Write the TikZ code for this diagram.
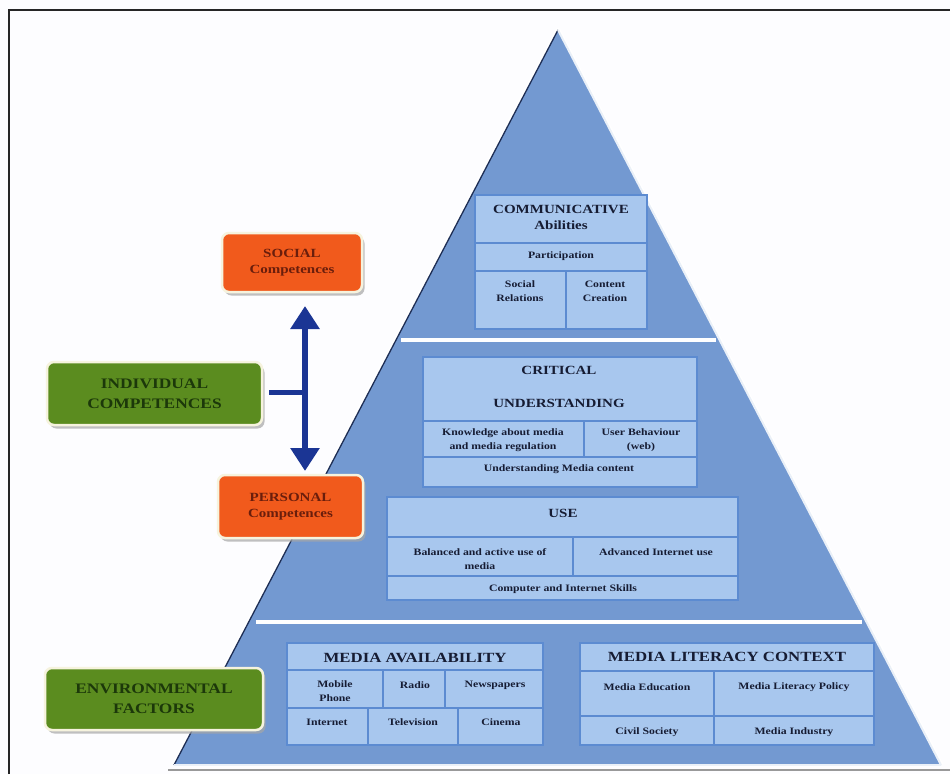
\documentclass[tikz,border=0pt]{standalone}
\usepackage{fontspec}
\newfontfamily\wide[FakeStretch=1.2]{Liberation Serif}
\usetikzlibrary{arrows.meta,shadows}
\definecolor{bgc}{HTML}{FDFDFF}
\definecolor{pyr}{HTML}{7399D1}
\definecolor{pyredge}{HTML}{1E2E55}
\definecolor{cellfill}{HTML}{A8C7EE}
\definecolor{cellline}{HTML}{5C8BD1}
\definecolor{navytext}{HTML}{161C33}
\definecolor{orangefill}{HTML}{F15A1C}
\definecolor{orangetext}{HTML}{6A1E0C}
\definecolor{greenfill}{HTML}{5B8C1F}
\definecolor{greentext}{HTML}{1C380A}
\definecolor{cream}{HTML}{F6F3DE}
\definecolor{arrowc}{HTML}{1B3594}
\tikzset{
  cell/.style={draw=cellline, fill=cellfill, line width=1.3pt},
  smalltxt/.style={font=\wide\bfseries\fontsize{9.8}{14}\selectfont, text=navytext, align=center, inner sep=0pt},
  headtxt/.style={font=\wide\bfseries\fontsize{12.5}{15}\selectfont, text=navytext, align=center, inner sep=0pt},
  bigheadtxt/.style={font=\wide\bfseries\fontsize{14}{16}\selectfont, text=navytext, align=center, inner sep=0pt},
  sidebox/.style={rounded corners=7pt, draw=cream, line width=2.5pt, align=center, inner sep=0pt,
     drop shadow={shadow xshift=2.5pt, shadow yshift=-3.5pt, fill=black!35, opacity=0.7}},
  orangebox/.style={sidebox, fill=orangefill, text=orangetext, font=\wide\bfseries\fontsize{12.5}{16}\selectfont},
  greenbox/.style={sidebox, fill=greenfill, text=greentext, font=\wide\bfseries\fontsize{14.5}{20}\selectfont},
}
\begin{document}
\begin{tikzpicture}[x=1pt,y=-1pt]
\useasboundingbox (0,0) rectangle (950,774);
\fill[bgc] (0,0) rectangle (950,774);
% frame
\draw[black!85, line width=1.6pt] (9,774) -- (9,10) -- (950,10);
\draw[black!40, line width=2.2pt] (168,770) -- (950,770);

% pyramid
\coordinate (apex) at (558,30);
\coordinate (bl) at (174,765);
\coordinate (br) at (941,765);
\draw[white, line width=5pt, line join=round] (bl) -- (apex) -- (br);
\fill[pyr] (apex) -- (br) -- (bl) -- cycle;
\draw[pyredge, line width=1.3pt] (bl) -- (apex);
\draw[white!85!pyr, line width=2pt] (apex) -- (br);
\draw[white!85!pyr, line width=1.5pt] (bl) -- (br);
% separators
\draw[white, line width=3.5pt] (401,340) -- (716,340);
\draw[white, line width=3.5pt] (256,622) -- (862,622);

% ---- COMMUNICATIVE
\draw[cell] (475,195) rectangle (647,243);
\draw[cell] (475,243) rectangle (647,271);
\draw[cell] (475,271) rectangle (566,329);
\draw[cell] (566,271) rectangle (647,329);
\node[headtxt] (comm) at (561,209) {COMMUNICATIVE};
\node[headtxt] (abil) at (561,225) {Abilities};
\node[smalltxt] (part) at (561,256) {Participation};
\node[smalltxt] (socrel) at (520,291) {Social\\Relations};
\node[smalltxt] (contc) at (605,291) {Content\\Creation};

% ---- CRITICAL UNDERSTANDING
\draw[cell] (423,357) rectangle (697,421);
\draw[cell] (423,421) rectangle (584,457);
\draw[cell] (584,421) rectangle (697,457);
\node[smalltxt] (know) at (503,440) {Knowledge about media\\and media regulation};
\node[smalltxt] (userb) at (641,440) {User Behaviour\\(web)};
\draw[cell] (423,457) rectangle (697,487);
\node[headtxt] (crit) at (559,370) {CRITICAL};
\node[headtxt] (under) at (559,403) {UNDERSTANDING};
\node[smalltxt] (umc) at (559,469) {Understanding Media content};

% ---- USE
\draw[cell] (387,497) rectangle (738,537);
\draw[cell] (387,537) rectangle (573,576);
\draw[cell] (573,537) rectangle (738,576);
\draw[cell] (387,576) rectangle (738,600);
\node[headtxt] (use) at (563,513) {USE};
\node[smalltxt] (bal) at (480,559) {Balanced and active use of\\media};
\node[smalltxt] (adv) at (656,552) {Advanced Internet use};
\node[smalltxt] (cis) at (563,589) {Computer and Internet Skills};

% ---- MEDIA AVAILABILITY
\draw[cell] (287,643) rectangle (543,670);
\draw[cell] (287,670) rectangle (383,708);
\draw[cell] (383,670) rectangle (445,708);
\draw[cell] (445,670) rectangle (543,708);
\draw[cell] (287,708) rectangle (368,745);
\draw[cell] (368,708) rectangle (458,745);
\draw[cell] (458,708) rectangle (543,745);
\node[bigheadtxt] (mavail) at (415,658) {MEDIA AVAILABILITY};
\node[smalltxt] (mob) at (335,691.5) {Mobile\\Phone};
\node[smalltxt] (radio) at (415,685) {Radio};
\node[smalltxt] (news) at (495,685) {Newspapers};
\node[smalltxt] (inet) at (327,722) {Internet};
\node[smalltxt] (tv) at (413,722) {Television};
\node[smalltxt] (cin) at (501,722) {Cinema};

% ---- MEDIA LITERACY CONTEXT
\draw[cell] (580,643) rectangle (874,671);
\draw[cell] (580,671) rectangle (714,716);
\draw[cell] (714,671) rectangle (874,716);
\draw[cell] (580,716) rectangle (714,745);
\draw[cell] (714,716) rectangle (874,745);
\node[bigheadtxt] (mlc) at (727,657) {MEDIA LITERACY CONTEXT};
\node[smalltxt] (medu) at (647,687) {Media Education};
\node[smalltxt] (mlp) at (794,687) {Media Literacy Policy};
\node[smalltxt] (civ) at (647,732) {Civil Society};
\node[smalltxt] (mind) at (794,732) {Media Industry};

% ---- side boxes
\node[orangebox, minimum width=140pt, minimum height=59pt] (social) at (292,262.5) {SOCIAL\\Competences};
\node[greenbox, minimum width=215pt, minimum height=63pt] (indiv) at (154.5,393.5) {INDIVIDUAL\\COMPETENCES};
\node[orangebox, minimum width=145pt, minimum height=63pt] (personal) at (290.5,506.5) {PERSONAL\\Competences};
\node[greenbox, minimum width=218pt, minimum height=62pt] (env) at (154,699) {ENVIRONMENTAL\\FACTORS};

% ---- arrows
\coordinate (uptip) at (305,306);
\coordinate (downtip) at (305,471);
\coordinate (jn) at (305,392);
\draw[arrowc, line width=6pt, {Triangle[width=28pt,length=23pt]}-{Triangle[width=28pt,length=23pt]}] (uptip) -- (downtip);
\draw[arrowc, line width=5pt, shorten <=6pt] (indiv.east |- jn) -- (jn);
\end{tikzpicture}
\end{document}
